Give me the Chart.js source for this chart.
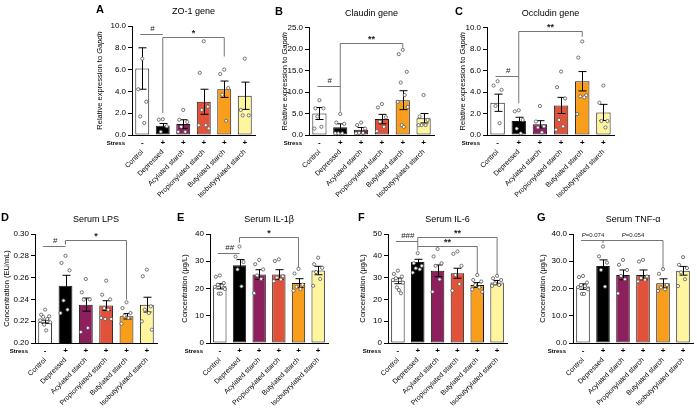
<!DOCTYPE html>
<html>
<head>
<meta charset="utf-8">
<script src="https://cdn.jsdelivr.net/npm/chart.js@4/dist/chart.umd.min.js"></script>
<style>
  html, body { margin: 0; padding: 0; background: #fff; }
  #wrap { position: relative; width: 697px; height: 410px; overflow: hidden; }
  #wrap canvas { position: absolute; }
</style>
</head>
<body>
<div id="wrap">
  <canvas id="chartA"></canvas>
  <canvas id="chartB"></canvas>
  <canvas id="chartC"></canvas>
  <canvas id="chartD"></canvas>
  <canvas id="chartE"></canvas>
  <canvas id="chartF"></canvas>
  <canvas id="chartG"></canvas>
</div>
<script>
// groups and stress row shared by all panels
const groups = ['Control', 'Depressed', 'Acylated starch', 'Propionylated starch', 'Butylated starch', 'Isobutyrylated starch'];
const stress = ['-', '+', '+', '+', '+', '+'];
const barColors = ['#ffffff', '#000000', '#8c1f5c', '#e0533a', '#f99d1c', '#fff59e'];

// A - ZO-1 gene
const zo1Mean = [6.1, 0.86, 1.0, 3.05, 4.2, 3.6];
const zo1Sem = [1.9, 0.2, 0.4, 1.15, 0.75, 1.25];
const zo1Points = [[7.0, 4.2, 3.05, 1.7, 1.1], [1.45, 1.4, 0.8, 0.3], [2.3, 1.4, 1.2, 0.75, 0.3, 0.3],
  [8.6, 5.7, 2.6, 2.3, 0.9, 0.9, 0.6], [6.0, 5.6, 4.3, 3.7, 1.3], [7.0, 2.3, 1.8, 1.8]];
const zo1Marks = [{ from: 0, to: 1, y: 9.3, text: '#' }, { from: 1, to: 4, y: 9.0, downFrom: 2.0, downTo: 7.2, text: '*' }];

// B - Claudin gene
const claudinMean = [5.0, 1.8, 1.2, 3.7, 8.1, 3.9];
const claudinSem = [1.4, 0.8, 0.55, 1.1, 2.2, 1.1];
const claudinPoints = [[8.1, 6.2, 6.2, 4.3, 1.9, 1.5], [4.9, 2.9, 2.6, 0.4, 0.4, 0.4], [2.9, 2.3, 1.5, 0.5, 0.5, 0.4],
  [7.2, 6.4, 4.1, 3.1, 1.9, 0.9], [19.8, 18.8, 14.7, 12.2, 9.3, 7.7, 6.5, 2.3, 1.9], [9.3, 4.3, 3.5, 2.3, 2.3, 2.3]];
const claudinMarks = [{ from: 0, to: 1, y: 11.4, text: '#' }, { from: 1, to: 4, y: 21.3, downFrom: 5.4, downTo: 20.3, text: '**' }];

// C - Occludin gene
const occludinMean = [3.0, 1.3, 1.0, 2.75, 5.0, 2.1];
const occludinSem = [0.8, 0.35, 0.33, 0.75, 0.9, 0.75];
const occludinPoints = [[5.0, 4.6, 4.2, 2.7, 1.1], [2.3, 2.2, 1.4, 0.6, 0.15], [2.7, 1.25, 0.8, 0.7, 0.25],
  [5.9, 4.45, 3.4, 1.4, 0.8, 0.5], [8.7, 7.2, 3.7, 3.6, 3.5, 1.95], [4.6, 3.0, 1.3, 1.3, 0.7]];
const occludinMarks = [{ from: 0, to: 1, y: 5.5, text: '#' }, { from: 1, to: 4, y: 9.7, downFrom: 2.95, downTo: 9.15, text: '**' }];

// D - Serum LPS
const lpsMean = [0.2195, 0.2526, 0.2352, 0.2343, 0.2245, 0.2352];
const lpsSem = [0.0015, 0.0095, 0.006, 0.0045, 0.0025, 0.0068];
const lpsPoints = [[0.2306, 0.226, 0.2245, 0.224, 0.222, 0.2208, 0.219, 0.2168, 0.2116],
  [0.280, 0.2734, 0.2667, 0.239, 0.2306, 0.2275], [0.2587, 0.2465, 0.240, 0.2398, 0.2138, 0.210],
  [0.2572, 0.2443, 0.240, 0.232, 0.2306, 0.223, 0.222, 0.222], [0.2373, 0.232, 0.2275, 0.225, 0.223, 0.2177],
  [0.2673, 0.2612, 0.2336, 0.2306, 0.2275, 0.2199, 0.2122]];
const lpsMarks = [{ from: 0, to: 1, y: 0.2893, text: '#' }, { from: 1, to: 4, y: 0.2948, downFrom: 0.2902, downTo: 0.2398, text: '*' }];

// E - Serum IL-1β
const il1Mean = [20.8, 28.5, 25.1, 25.1, 22.0, 26.6];
const il1Sem = [0.95, 2.1, 1.8, 1.8, 1.6, 1.55];
const il1Points = [[24.8, 24.3, 22.0, 21.4, 21.0, 20.6, 19.8, 18.1, 18.1], [35.4, 31.7, 29.7, 27.0, 20.8],
  [30.5, 28.9, 27.0, 24.8, 23.5, 18.3], [30.7, 30.1, 24.5, 24.0, 23.3, 22.7], [27.2, 25.5, 21.4, 20.6, 19.8, 19.2],
  [31.3, 28.9, 27.6, 26.0, 23.5, 21.0]];
const il1Marks = [{ from: 0, to: 1, y: 33.2, text: '##' }, { from: 1, to: 4, y: 38.8, downFrom: 36.9, downTo: 27.6, text: '*' }];

// F - Serum IL-6
const il6Mean = [28.5, 37.1, 33.1, 32.0, 26.6, 27.7];
const il6Sem = [1.3, 1.3, 2.7, 2.3, 1.1, 1.0];
const il6Points = [[33.2, 31.7, 30.5, 29.7, 28.9, 28.9, 27.7, 25.5, 24.3, 22.8], [41.2, 36.6, 35.4, 34.3, 33.8, 32.3],
  [43.1, 39.7, 36.6, 35.4, 29.2, 23.5], [42.0, 40.9, 35.4, 31.2, 27.1, 24.0], [31.2, 28.9, 28.2, 26.6, 25.5, 24.6, 23.5],
  [30.8, 29.7, 28.9, 27.4, 26.6, 26.2]];
const il6Marks = [{ from: 0, to: 1, y: 46.6, text: '###' }, { from: 1, to: 4, y: 44.3, downFrom: 42.5, downTo: 31.7, text: '**' },
  { from: 1, to: 5, y: 48.6, downFrom: 44.3, downTo: 31.2, text: '**' }];

// G - Serum TNF-α
const tnfMean = [20.7, 28.3, 25.0, 25.0, 21.9, 26.5];
const tnfSem = [1.0, 2.2, 1.8, 1.8, 1.65, 1.6];
const tnfPoints = [[24.6, 24.2, 22.2, 21.3, 20.9, 20.5, 19.7, 18.0, 18.0], [35.4, 31.8, 29.5, 26.8, 20.7],
  [30.5, 28.7, 26.8, 24.6, 23.4, 18.2], [30.5, 29.9, 24.4, 23.8, 23.2, 22.6], [27.1, 25.4, 21.3, 20.4, 19.7, 19.1],
  [31.5, 28.7, 27.5, 25.9, 23.4, 20.9]];
const tnfMarks = [{ from: 0, to: 1, y: 37.9, text: 'P=0.074' }, { from: 1, to: 4, y: 37.9, downFrom: 36.7, downTo: 27.4, text: 'P=0.054' }];

Chart.defaults.font.family = 'Arial, "Liberation Sans", Helvetica, sans-serif';
Chart.defaults.color = '#000';

const jitter = [0, -4, 4, -2, 2, -5, 5, -1, 1, 3];
const FONT = 'Arial, "Liberation Sans", Helvetica, sans-serif';

function drawMarkText(ctx, text, x, y) {
    ctx.textBaseline = 'bottom';
    if (text.startsWith('P')) {
        const rest = text.slice(1);
        ctx.font = 'italic 6px ' + FONT;
        const w1 = ctx.measureText('P').width;
        ctx.font = '6px ' + FONT;
        const w2 = ctx.measureText(rest).width;
        let sx = x - (w1 + w2) / 2;
        ctx.textAlign = 'left';
        ctx.font = 'italic 6px ' + FONT;
        ctx.fillText('P', sx, y);
        ctx.font = '6px ' + FONT;
        ctx.fillText(rest, sx + w1, y);
    } else {
        ctx.textAlign = 'center';
        ctx.font = (text.includes('*') ? 'bold 9px ' : '8px ') + FONT;
        ctx.fillText(text, x, y + (text.includes('*') ? 3 : 0));
    }
}

function makeExtras(p) {
    return {
        id: 'extras',
        afterDatasetsDraw(chart) {
            const ctx = chart.ctx;
            const xs = chart.scales.x;
            const ys = chart.scales.y;
            const area = chart.chartArea;
            ctx.save();

            // error bars (mean +/- SEM)
            ctx.strokeStyle = '#000';
            ctx.lineWidth = 1;
            p.mean.forEach((m, i) => {
                const cx = Math.round(xs.getPixelForValue(i)) + 0.5;
                const hi = ys.getPixelForValue(m + p.sem[i]);
                const lo = ys.getPixelForValue(m - p.sem[i]);
                ctx.beginPath();
                ctx.moveTo(cx, hi); ctx.lineTo(cx, lo);
                ctx.moveTo(cx - 4, hi); ctx.lineTo(cx + 4, hi);
                ctx.moveTo(cx - 4, lo); ctx.lineTo(cx + 4, lo);
                ctx.stroke();
            });

            // individual animals
            ctx.lineWidth = 0.8;
            ctx.strokeStyle = '#555';
            ctx.fillStyle = '#fff';
            p.points.forEach((arr, i) => {
                const cx = xs.getPixelForValue(i);
                arr.forEach((v, k) => {
                    ctx.beginPath();
                    ctx.arc(cx + jitter[k % jitter.length], ys.getPixelForValue(v), 1.6, 0, Math.PI * 2);
                    ctx.fill();
                    ctx.stroke();
                });
            });

            // significance brackets
            p.marks.forEach(mk => {
                const x1 = xs.getPixelForValue(mk.from);
                const x2 = xs.getPixelForValue(mk.to);
                const y = Math.round(ys.getPixelForValue(mk.y)) + 0.5;
                ctx.strokeStyle = '#666';
                ctx.lineWidth = 0.9;
                ctx.beginPath();
                if (mk.downFrom != null) {
                    ctx.moveTo(x1, ys.getPixelForValue(mk.downFrom));
                    ctx.lineTo(x1, y);
                } else {
                    ctx.moveTo(x1 - 2, y);
                }
                ctx.lineTo(x2, y);
                if (mk.downTo != null) ctx.lineTo(x2, ys.getPixelForValue(mk.downTo));
                ctx.stroke();
                ctx.fillStyle = '#222';
                drawMarkText(ctx, mk.text, (x1 + x2) / 2, y - 2);
            });

            // panel letter and title
            ctx.fillStyle = '#000';
            ctx.textBaseline = 'middle';
            ctx.textAlign = 'left';
            ctx.font = 'bold 11px ' + FONT;
            ctx.fillText(p.letter, area.left + p.letterDx, area.top - 16);
            ctx.textAlign = 'center';
            ctx.font = '9px ' + FONT;
            ctx.fillText(p.title, (area.left + area.right) / 2, area.top - 14);

            // stress row label
            ctx.textAlign = 'right';
            ctx.font = 'bold 6px ' + FONT;
            ctx.fillText('Stress', area.left - 7, area.bottom + 8);

            // y axis title (may contain an italic part)
            ctx.save();
            ctx.translate(p.yTitleX - p.box[0], (area.top + area.bottom) / 2);
            ctx.rotate(-Math.PI / 2);
            let total = 0;
            p.yTitle.forEach(([t, it]) => {
                ctx.font = (it ? 'italic ' : '') + '7.5px ' + FONT;
                total += ctx.measureText(t).width;
            });
            let sx = -total / 2;
            ctx.textAlign = 'left';
            p.yTitle.forEach(([t, it]) => {
                ctx.font = (it ? 'italic ' : '') + '7.5px ' + FONT;
                ctx.fillText(t, sx, 0);
                sx += ctx.measureText(t).width;
            });
            ctx.restore();

            ctx.restore();
        }
    };
}

function makePanel(p) {
    const canvas = document.getElementById(p.id);
    const [cl, ct, cw, ch] = p.box;
    const [pl, pt, pr, pb] = p.plot;
    canvas.width = cw;
    canvas.height = ch;
    canvas.style.left = cl + 'px';
    canvas.style.top = ct + 'px';
    canvas.style.width = cw + 'px';
    canvas.style.height = ch + 'px';
    const stressH = 13;

    return new Chart(canvas, {
        type: 'bar',
        data: {
            labels: groups,
            datasets: [{
                data: p.mean,
                backgroundColor: barColors,
                borderColor: '#1a1a1a',
                borderWidth: 1,
                borderSkipped: false,
                barPercentage: 0.68,
                categoryPercentage: 1,
                xAxisID: 'x',
                yAxisID: 'y'
            }]
        },
        options: {
            responsive: false,
            animation: false,
            devicePixelRatio: 1,
            events: [],
            layout: { padding: { left: 0, top: pt - ct, right: cl + cw - pr, bottom: 0 } },
            plugins: { legend: { display: false }, tooltip: { enabled: false } },
            scales: {
                x: {
                    type: 'category', labels: stress, offset: true, position: 'bottom', weight: 1,
                    grid: { display: false, drawTicks: false },
                    border: { color: '#000', width: 1 },
                    ticks: { font: { size: 8, weight: 'bold' }, padding: 3, autoSkip: false, maxRotation: 0, minRotation: 0 },
                    afterFit: s => { s.height = stressH; }
                },
                x2: {
                    type: 'category', labels: groups, offset: true, position: 'bottom', weight: 2,
                    grid: { display: false, drawTicks: false },
                    border: { display: false },
                    ticks: { font: { size: 7 }, autoSkip: false, minRotation: 45, maxRotation: 45, padding: 0 },
                    afterFit: s => { s.height = ct + ch - pb - stressH; }
                },
                y: {
                    min: p.yMin, max: p.yMax,
                    ticks: { stepSize: p.yStep, font: { size: 8 }, padding: 2, callback: v => Number(v).toFixed(p.dec) },
                    grid: { drawOnChartArea: false, color: '#000', tickLength: 4 },
                    border: { color: '#000', width: 1 },
                    afterFit: s => { s.width = pl - cl; }
                }
            }
        },
        plugins: [makeExtras(p)]
    });
}

const geneTitle = [['Relative expression to ', false], ['Gapdh', true]];

makePanel({ id: 'chartA', letter: 'A', title: 'ZO-1 gene', box: [88, 0, 175, 205], plot: [132, 26, 255, 135],
    letterDx: -36, yTitleX: 100, yTitle: geneTitle, yMin: 0, yMax: 10, yStep: 2, dec: 1,
    mean: zo1Mean, sem: zo1Sem, points: zo1Points, marks: zo1Marks });
makePanel({ id: 'chartB', letter: 'B', title: 'Claudin gene', box: [268, 0, 175, 205], plot: [309, 27.5, 434, 135],
    letterDx: -34, yTitleX: 285, yTitle: geneTitle, yMin: 0, yMax: 25, yStep: 5, dec: 1,
    mean: claudinMean, sem: claudinSem, points: claudinPoints, marks: claudinMarks });
makePanel({ id: 'chartC', letter: 'C', title: 'Occludin gene', box: [446, 0, 175, 205], plot: [487, 27.5, 614, 135],
    letterDx: -32, yTitleX: 463, yTitle: geneTitle, yMin: 0, yMax: 10, yStep: 2, dec: 1,
    mean: occludinMean, sem: occludinSem, points: occludinPoints, marks: occludinMarks });
makePanel({ id: 'chartD', letter: 'D', title: 'Serum LPS', box: [0, 205, 165, 205], plot: [35, 234, 157, 343],
    letterDx: -34, yTitleX: 7, yTitle: [['Concentration (EU/mL)', false]], yMin: 0.2, yMax: 0.3, yStep: 0.02, dec: 2,
    mean: lpsMean, sem: lpsSem, points: lpsPoints, marks: lpsMarks });
makePanel({ id: 'chartE', letter: 'E', title: 'Serum IL-1β', box: [170, 205, 165, 205], plot: [210, 234, 328, 343],
    letterDx: -33, yTitleX: 185, yTitle: [['Concentration (μg/L)', false]], yMin: 0, yMax: 40, yStep: 10, dec: 0,
    mean: il1Mean, sem: il1Sem, points: il1Points, marks: il1Marks });
makePanel({ id: 'chartF', letter: 'F', title: 'Serum IL-6', box: [345, 205, 168, 205], plot: [388, 234, 507, 343],
    letterDx: -30, yTitleX: 363, yTitle: [['Concentration (μg/L)', false]], yMin: 0, yMax: 50, yStep: 10, dec: 0,
    mean: il6Mean, sem: il6Sem, points: il6Points, marks: il6Marks });
makePanel({ id: 'chartG', letter: 'G', title: 'Serum TNF-α', box: [520, 205, 177, 205], plot: [573, 234, 693, 343],
    letterDx: -36, yTitleX: 543, yTitle: [['Concentration (μg/L)', false]], yMin: 0, yMax: 40, yStep: 10, dec: 1,
    mean: tnfMean, sem: tnfSem, points: tnfPoints, marks: tnfMarks });
</script>
</body>
</html>
